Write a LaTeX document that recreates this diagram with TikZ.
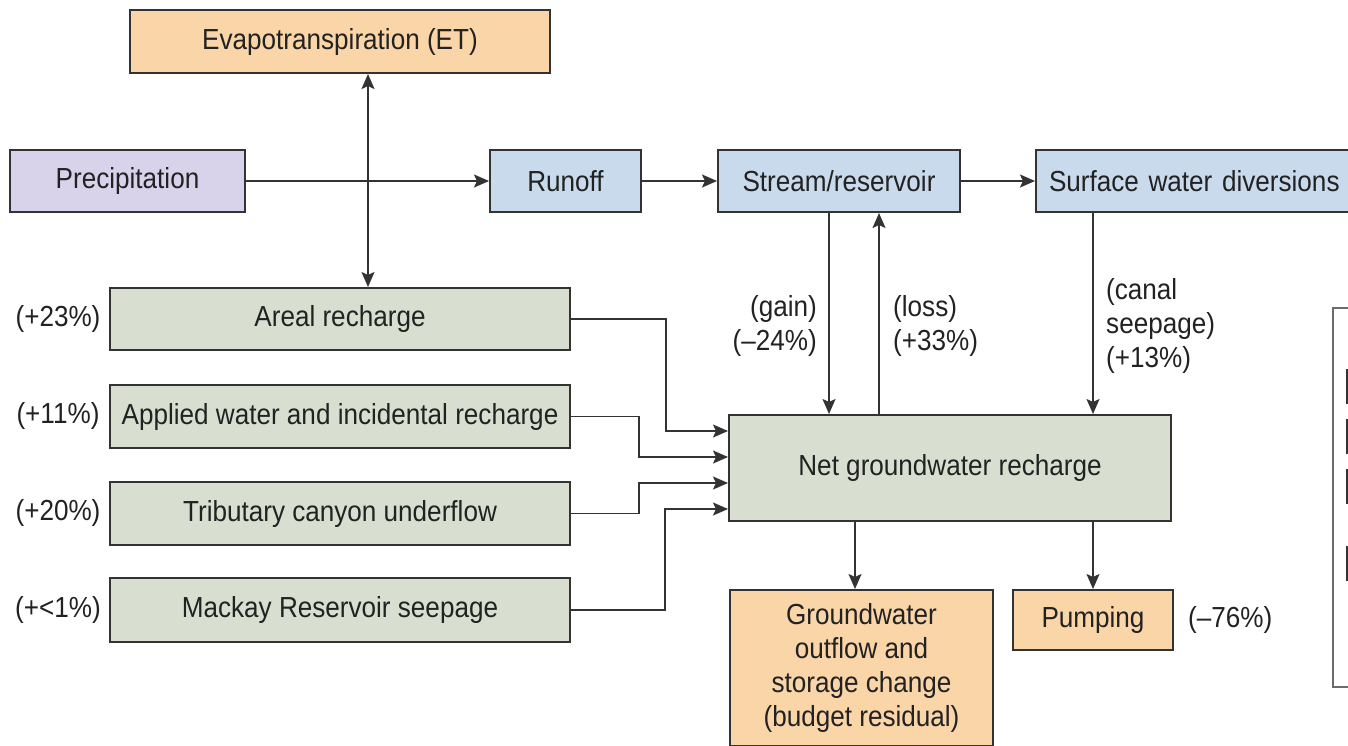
\documentclass[tikz,border=0pt]{standalone}
\usepackage{fontspec}
\setmainfont{Liberation Sans}[FakeStretch=0.9]
\usetikzlibrary{arrows.meta}
\definecolor{cOrange}{HTML}{F9D5A8}
\definecolor{cPurple}{HTML}{D9D2EB}
\definecolor{cBlue}{HTML}{C8DAEC}
\definecolor{cGreen}{HTML}{D8DFD0}
\definecolor{cLine}{HTML}{333333}
\definecolor{cText}{HTML}{222222}
\tikzset{
  box/.style={draw=cLine, line width=2pt, inner sep=0pt, text=cText, font=\fontsize{29}{34}\selectfont, align=center},
  lbl/.style={inner sep=0pt, text=cText, font=\fontsize{29}{34}\selectfont},
  flow/.style={draw=cLine, line width=1.8pt, -{Stealth[length=15pt,width=13pt,inset=3pt]}},
  flow2/.style={draw=cLine, line width=1.8pt, {Stealth[length=15pt,width=13pt,inset=3pt]}-{Stealth[length=15pt,width=13pt,inset=3pt]}}
}
\begin{document}
\begin{tikzpicture}[x=1pt,y=-1pt]
\useasboundingbox (0,0) rectangle (1348,745);
\clip (0,0) rectangle (1348,745);
\fill[white] (0,0) rectangle (1348,745);
% top row
\node[box, fill=cOrange, minimum width=420pt, minimum height=63pt] (et) at (340,41.5) {Evapotranspiration (ET)};
\node[box, fill=cPurple, minimum width=235pt, minimum height=62pt] (precip) at (127.5,181) {Precipitation};
\node[box, fill=cBlue, minimum width=151pt, minimum height=62pt] (runoff) at (565.5,181) {Runoff};
\node[box, fill=cBlue, minimum width=242pt, minimum height=62pt] (stream) at (839,181) {Stream/reservoir};
\node[box, fill=cBlue, minimum width=324pt, minimum height=62pt, text width=324pt, align=left] (surface) at (1198,181) {\hspace{13pt}Surface water diversions};
% recharge sources
\node[box, fill=cGreen, minimum width=460pt, minimum height=62pt] (areal) at (340,319) {Areal recharge};
\node[box, fill=cGreen, minimum width=460pt, minimum height=63pt] (applied) at (340,416.5) {Applied water and incidental recharge};
\node[box, fill=cGreen, minimum width=460pt, minimum height=63pt] (trib) at (340,513.5) {Tributary canyon underflow};
\node[box, fill=cGreen, minimum width=460pt, minimum height=64pt] (mackay) at (340,610) {Mackay Reservoir seepage};
\node[lbl] (p1) at (58,319) {(+23\%)};
\node[lbl] (p2) at (58,416) {(+11\%)};
\node[lbl] (p3) at (58,513) {(+20\%)};
\node[lbl] (p4) at (58,610) {(+<1\%)};
% net
\node[box, fill=cGreen, minimum width=442pt, minimum height=106pt] (net) at (950,468) {Net groundwater recharge};
\node[box, fill=cOrange, minimum width=263pt, minimum height=156pt] (gw) at (861.5,668) {Groundwater\\outflow and\\storage change\\(budget residual)};
\node[box, fill=cOrange, minimum width=160pt, minimum height=60pt] (pump) at (1093,620) {Pumping};
\node[lbl, anchor=west] (p76) at (1188,620) {(--76\%)};
% stream labels
\node[lbl, anchor=east, align=right] (gain) at (817,326) {(gain)\\(--24\%)};
\node[lbl, anchor=west, align=left] (loss) at (893,326) {(loss)\\(+33\%)};
\node[lbl, anchor=west, align=left] (canal) at (1106,326) {(canal\\seepage)\\(+13\%)};
% legend (partly outside)
\draw[draw=gray!85!black, line width=2.5pt] (1333,308) rectangle (1370,687);
\node[box, fill=cPurple, minimum width=20pt, minimum height=33pt] (lg1) at (1357,386) {};
\node[box, fill=cOrange, minimum width=20pt, minimum height=33pt] (lg2) at (1357,436) {};
\node[box, fill=cBlue, minimum width=20pt, minimum height=33pt] (lg3) at (1357,486) {};
\node[box, fill=cGreen, minimum width=20pt, minimum height=33pt] (lg4) at (1357,563) {};
% connectors
\coordinate (etx) at (368,0);
\draw[flow2] (et.south -| etx) -- (areal.north -| etx);
\draw[flow] (precip) -- (runoff);
\draw[flow] (runoff) -- (stream);
\draw[flow] (stream) -- (surface.west);
\coordinate (gx) at (829,0);
\coordinate (lx) at (879,0);
\coordinate (cx) at (1093,0);
\coordinate (ox) at (855,0);
\draw[flow] (stream.south -| gx) -- (net.north -| gx);
\draw[flow] (net.north -| lx) -- (stream.south -| lx);
\draw[flow] (surface.south -| cx) -- (net.north -| cx);
\draw[flow] (net.south -| ox) -- (gw.north -| ox);
\draw[flow] (net.south -| cx) -- (pump.north);
\draw[flow] (areal.east) -- (666,319) -- (666,431) -- (net.west |- 0,431);
\draw[flow] (applied.east) -- (639,416.5) -- (639,457) -- (net.west |- 0,457);
\draw[flow] (trib.east) -- (639,513.5) -- (639,483) -- (net.west |- 0,483);
\draw[flow] (mackay.east) -- (665,610) -- (665,509) -- (net.west |- 0,509);
\end{tikzpicture}
\end{document}
